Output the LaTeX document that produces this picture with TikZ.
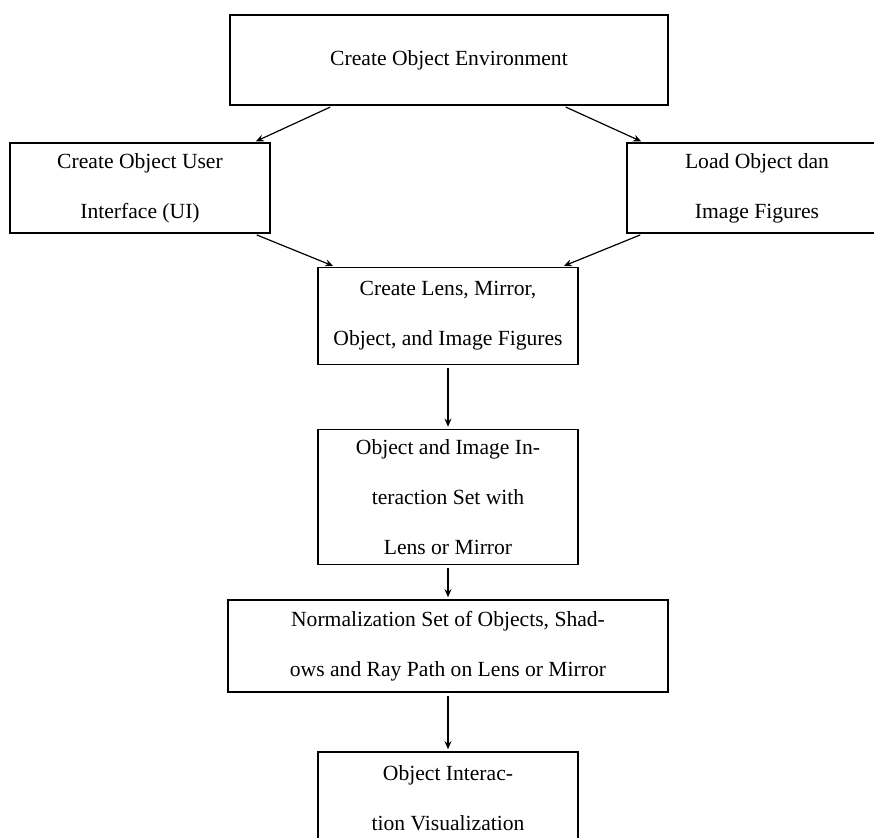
\documentclass[tikz,border=0pt]{standalone}
\usepackage{fontspec}
\setmainfont{Liberation Serif}
\usetikzlibrary{arrows.meta, positioning}
\tikzset{
    stepbox/.style={draw, line width=0.8pt, align=center, inner sep=0pt,
        font=\fontsize{10.8}{25}\selectfont},
    flow/.style={line width=0.6pt, -{Stealth[length=4pt, width=3.5pt]}, shorten <=1.5pt, shorten >=1pt}
}

\begin{document}
\begin{tikzpicture}[x=0.5pt, y=-0.5pt]
        \useasboundingbox (0,0) rectangle (874,837);

        % first level
        \node[stepbox, minimum width=219pt, minimum height=45pt] (env) at (449,60) {Create Object Environment};
        \node[stepbox, minimum width=130pt, minimum height=45pt] (ui) at (140,188) {Create Object User\\Interface (UI)};
        \node[stepbox, minimum width=130pt, minimum height=45pt] (load) at (757,188) {Load Object dan\\Image Figures};

        % main column
        \node[stepbox, minimum width=130pt, minimum height=48.5pt] (figs) at (448,316) {Create Lens, Mirror,\\Object, and Image Figures};
        \node[stepbox, minimum width=130pt, minimum height=67.5pt] (inter) at (448,497) {Object and Image In-\\teraction Set with\\Lens or Mirror};
        \node[stepbox, minimum width=220pt, minimum height=46pt] (norm) at (448,646) {Normalization Set of Objects, Shad-\\ows and Ray Path on Lens or Mirror};
        \node[stepbox, minimum width=130pt, minimum height=46pt] (vis) at (448,798) {Object Interac-\\tion Visualization};

        \draw[flow] ([xshift=-58pt]env.south) -- ([xshift=57pt]ui.north);
        \draw[flow] ([xshift=57pt]env.south) -- ([xshift=-57pt]load.north);
        \draw[flow] ([xshift=57pt]ui.south) -- ([xshift=-56.5pt]figs.north);
        \draw[flow] ([xshift=-57pt]load.south) -- ([xshift=57pt]figs.north);
        \draw[flow] (figs) -- (inter);
        \draw[flow] (inter) -- (norm);
        \draw[flow] (norm) -- (vis);
    \end{tikzpicture}
\end{document}
